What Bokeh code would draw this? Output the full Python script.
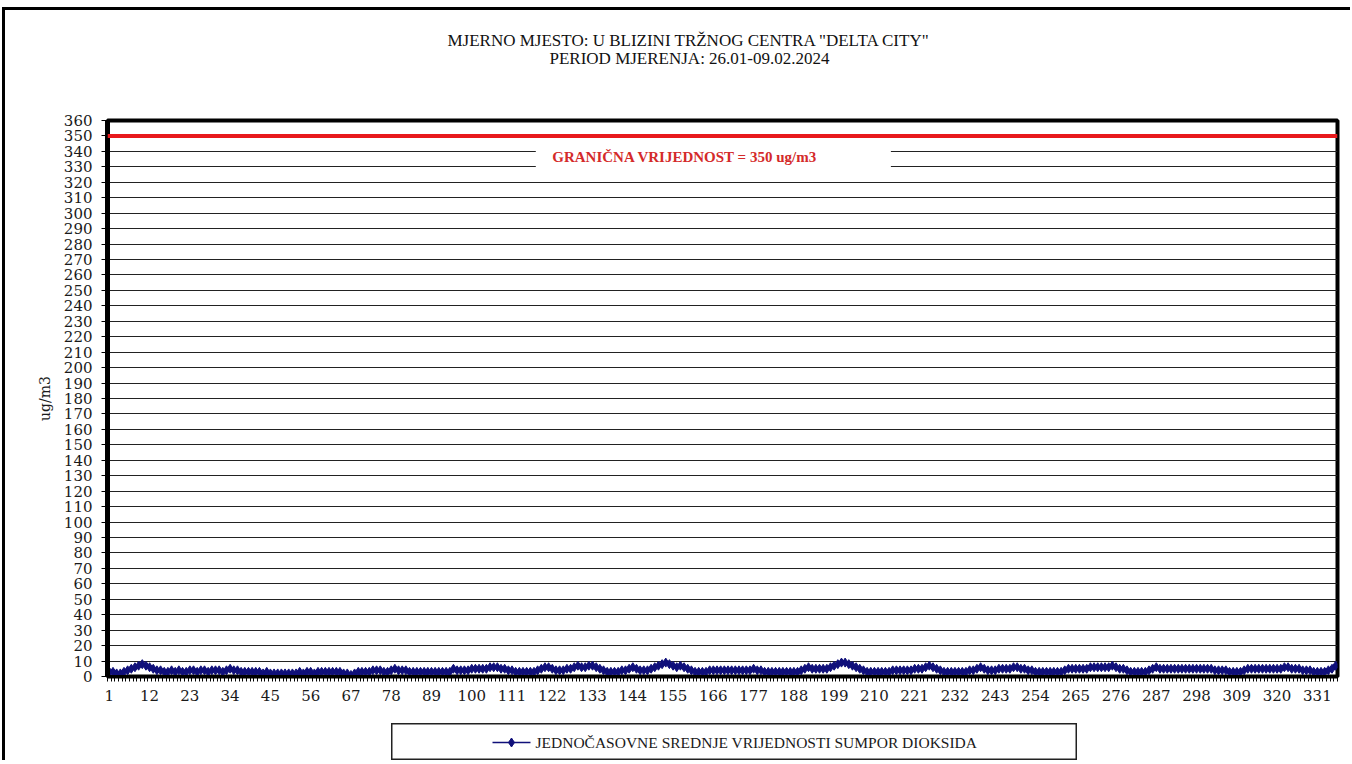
from bokeh.plotting import figure
from bokeh.layouts import column, row
from bokeh.models import Range1d, FixedTicker, Span, Label, BoxAnnotation, Spacer
from bokeh.core.properties import value
from bokeh.embed import file_html
from bokeh.resources import INLINE

title_line1 = 'MJERNO MJESTO: U BLIZINI TRŽNOG CENTRA "DELTA CITY"'
title_line2 = "PERIOD MJERENJA: 26.01-09.02.2024"
y_label = "ug/m3"
series_name = "JEDNOČASOVNE SREDNJE VRIJEDNOSTI SUMPOR DIOKSIDA"
limit_text = "GRANIČNA VRIJEDNOST = 350 ug/m3"
limit_value = 350

# hourly SO2 values (ug/m3), measurements 1..336
so2 = [
    3, 3, 2, 2, 3, 4, 5, 6, 7, 8, 7, 6,
    5, 4, 4, 3, 3, 4, 3, 4, 3, 3, 4, 4,
    3, 4, 4, 3, 4, 4, 4, 3, 4, 5, 4, 4,
    3, 3, 3, 3, 3, 3, 2, 3, 2, 2, 2, 2,
    2, 2, 2, 2, 3, 2, 3, 3, 2, 3, 3, 3,
    3, 3, 3, 3, 2, 2, 1, 2, 3, 3, 3, 3,
    4, 4, 4, 3, 3, 4, 5, 4, 4, 4, 3, 3,
    3, 3, 3, 3, 3, 3, 3, 3, 3, 3, 5, 4,
    4, 4, 4, 5, 5, 5, 5, 5, 6, 6, 6, 5,
    5, 4, 4, 3, 3, 3, 3, 3, 3, 4, 5, 6,
    6, 5, 4, 4, 4, 5, 5, 6, 7, 6, 6, 7,
    7, 6, 5, 4, 3, 3, 3, 3, 4, 4, 5, 6,
    5, 4, 4, 4, 5, 6, 7, 8, 9, 8, 7, 6,
    7, 6, 5, 4, 3, 3, 3, 3, 4, 4, 4, 4,
    4, 4, 4, 4, 4, 4, 4, 4, 5, 4, 4, 3,
    3, 3, 3, 3, 3, 3, 3, 3, 3, 4, 5, 6,
    5, 5, 5, 5, 5, 6, 7, 8, 9, 9, 8, 7,
    6, 5, 4, 3, 3, 3, 3, 3, 3, 3, 4, 4,
    4, 4, 4, 4, 5, 5, 5, 6, 7, 6, 5, 4,
    3, 3, 3, 3, 3, 3, 3, 4, 4, 5, 6, 5,
    4, 4, 4, 5, 5, 5, 5, 6, 6, 5, 5, 4,
    4, 3, 3, 3, 3, 3, 3, 3, 3, 4, 5, 5,
    5, 5, 5, 5, 6, 6, 6, 6, 6, 6, 7, 6,
    5, 5, 4, 3, 3, 3, 3, 3, 4, 5, 6, 5,
    5, 5, 5, 5, 5, 5, 5, 5, 5, 5, 5, 5,
    5, 5, 4, 4, 4, 4, 3, 3, 3, 3, 4, 5,
    5, 5, 5, 5, 5, 5, 5, 5, 5, 6, 6, 5,
    5, 5, 4, 4, 4, 3, 3, 3, 3, 4, 5, 7,
]
hours = list(range(1, len(so2) + 1))
x_tick_labels = [1, 12, 23, 34, 45, 56, 67, 78, 89, 100, 111, 122, 133, 144, 155, 166,
                 177, 188, 199, 210, 221, 232, 243, 254, 265, 276, 287, 298, 309, 320, 331]
y_ticks = list(range(0, 361, 10))

n = len(so2)
W = 1345
navy = "#10107a"
SERIF = "Liberation Serif"
DSERIF = "DejaVu Serif"


def blank(width, height):
    f = figure(width=width, height=height, output_backend="svg", toolbar_location=None,
               x_range=Range1d(0, width), y_range=Range1d(0, height),
               min_border=0, min_border_left=0, min_border_right=0,
               min_border_top=0, min_border_bottom=0)
    f.axis.visible = False
    f.grid.visible = False
    f.outline_line_color = None
    f.background_fill_color = "white"
    f.border_fill_color = "white"
    return f


# ---- header with the two title lines
header = blank(W, 100)
header.add_layout(Label(x=442, y=70, text=title_line1, text_align="left",
                        text_baseline="middle", text_font=SERIF,
                        text_font_size="17px", text_color="#111111"))
header.add_layout(Label(x=544, y=52, text=title_line2, text_align="left",
                        text_baseline="middle", text_font=SERIF,
                        text_font_size="17px", text_color="#111111"))

# ---- main chart
p = figure(width=W, height=613, output_backend="svg", toolbar_location=None,
           x_range=Range1d(0.5, n + 0.5), y_range=Range1d(0, 360))
p.min_border_left = 102
p.min_border_top = 10
p.min_border_right = 13
p.min_border_bottom = 47
p.background_fill_color = "white"
p.border_fill_color = "white"
p.outline_line_color = "black"
p.outline_line_width = 4

p.yaxis.ticker = FixedTicker(ticks=y_ticks)
p.yaxis.axis_line_color = "black"
p.yaxis.axis_line_width = 5
p.yaxis.major_tick_out = 6
p.yaxis.major_tick_in = 0
p.yaxis.minor_tick_line_color = None
p.yaxis.major_label_text_font = DSERIF
p.yaxis.major_label_text_font_size = "15px"
p.yaxis.major_label_text_color = "#1a1a1a"
p.yaxis.major_label_standoff = 9
p.yaxis.axis_label = y_label
p.yaxis.axis_label_text_font = DSERIF
p.yaxis.axis_label_text_font_size = "14px"
p.yaxis.axis_label_text_font_style = "normal"
p.yaxis.axis_label_text_color = "#1a1a1a"
p.yaxis.axis_label_standoff = 8

p.xaxis.ticker = FixedTicker(ticks=x_tick_labels,
                             minor_ticks=[h + 0.5 for h in [0] + hours])
p.xaxis.axis_line_color = "black"
p.xaxis.axis_line_width = 3
p.xaxis.major_tick_out = 0
p.xaxis.major_tick_in = 0
p.xaxis.minor_tick_out = 5
p.xaxis.minor_tick_in = 0
p.xaxis.minor_tick_line_color = "black"
p.xaxis.major_label_text_font = DSERIF
p.xaxis.major_label_text_font_size = "15px"
p.xaxis.major_label_text_color = "#1a1a1a"
p.xaxis.major_label_standoff = 8

p.xgrid.grid_line_color = None
p.ygrid.ticker = FixedTicker(ticks=y_ticks)
p.ygrid.grid_line_color = "#222222"
p.ygrid.grid_line_width = 1.2

p.add_layout(Span(location=limit_value, dimension="width", line_color="#e8191c", line_width=4))
p.add_layout(BoxAnnotation(left=117.5, right=214.5, bottom=326.5, top=344, fill_color="white",
                           fill_alpha=1, line_color=None))
p.add_layout(Label(x=122, y=336.5, text=limit_text, text_color="#d42a2a",
                   text_font=SERIF, text_font_size="15px", text_font_style="bold",
                   text_baseline="middle", text_align="left"))

p.line(hours, so2, line_color=navy, line_width=3)
p.scatter(hours, so2, marker="diamond", size=9, fill_color=navy, line_color=navy)

# ---- legend box
leg = blank(686, 37)
leg.outline_line_color = "#222222"
leg.outline_line_width = 2
leg.line(x=[101, 139], y=[18, 18], line_color=navy, line_width=1.5)
leg.scatter(x=[120], y=[18], marker="diamond", size=9, fill_color=navy, line_color=navy)
leg.text(x=[144], y=[18], text=[series_name], text_align="left", text_baseline="middle",
         text_font=value(SERIF), text_font_size="15.5px", text_color="#1a1a1a")

layout = column(row(header), p, row(Spacer(width=386, height=37), leg), spacing=0,
                styles={"border-top": "3px solid black", "border-left": "3px solid black",
                        "margin-top": "7px", "margin-left": "2px"})

open("out.html", "w").write(file_html(layout, INLINE))
